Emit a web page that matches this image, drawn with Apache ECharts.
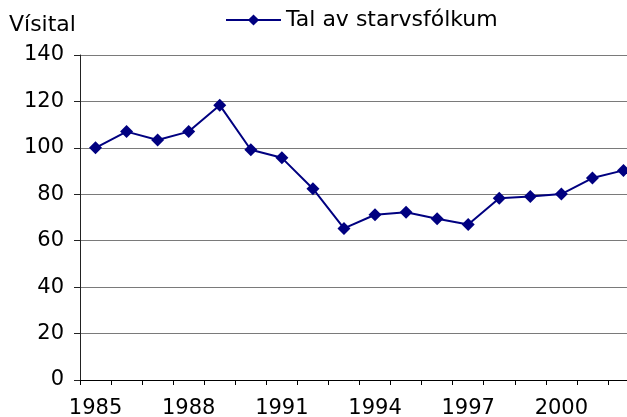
<!DOCTYPE html>
<html>
<head>
<meta charset="utf-8">
<script src="https://cdn.jsdelivr.net/npm/echarts@6/dist/echarts.min.js"></script>
<style>
  html, body { margin: 0; padding: 0; background: #fff; }
  #chart { width: 627px; height: 417px; }
</style>
</head>
<body>
<div id="chart"></div>
<script>
const years = ['1985', '1986', '1987', '1988', '1989', '1990', '1991', '1992', '1993',
  '1994', '1995', '1996', '1997', '1998', '1999', '2000', '2001', '2002'];
const staffIndex = [100, 107, 103.4, 107, 118.4, 99.2, 95.7, 82.4, 65.3,
  71.2, 72.3, 69.5, 67, 78.3, 79, 80.1, 87, 90.3];
const yTicks = [0, 140, 20];
const seriesName = 'Tal av starvsfólkum';
const yAxisTitle = 'Vísital';

const font = 'DejaVu Sans, Verdana, sans-serif';
const chart = echarts.init(document.getElementById('chart'));

// plot runs past the right edge of the picture, like the cropped original
chart.setOption({
  animation: false,
  textStyle: { fontFamily: font },
  title: {
    text: yAxisTitle,
    left: 9,
    top: 14,
    padding: 0,
    textStyle: { fontFamily: font, fontSize: 22, fontWeight: 'normal', color: '#000' }
  },
  legend: {
    left: 225,
    top: 9,
    padding: 0,
    itemWidth: 55,
    itemHeight: 14,
    textStyle: { fontFamily: font, fontSize: 22, color: '#000' },
    data: [seriesName]
  },
  grid: {
    left: 80, width: 559, top: 55, height: 325,
    containLabel: false, outerBoundsMode: 'none'
  },
  xAxis: {
    type: 'category',
    data: years,
    boundaryGap: true,
    axisLine: { lineStyle: { color: '#000', width: 1 } },
    axisTick: { show: true, interval: 0, length: 5, lineStyle: { color: '#000' } },
    axisLabel: { interval: 2, margin: 18, fontSize: 21, color: '#000', fontFamily: font }
  },
  yAxis: {
    type: 'value',
    min: yTicks[0],
    max: yTicks[1],
    interval: yTicks[2],
    axisLine: { show: true, lineStyle: { color: '#222', width: 1 } },
    axisTick: { show: true, length: 6, lineStyle: { color: '#222' } },
    axisLabel: { margin: 16, fontSize: 21, color: '#000', fontFamily: font },
    splitLine: { show: true, lineStyle: { color: '#7a7a7a', width: 1 } }
  },
  series: [{
    name: seriesName,
    type: 'line',
    data: staffIndex,
    symbol: 'diamond',
    symbolSize: 13,
    itemStyle: { color: '#000080' },
    lineStyle: { color: '#000080', width: 2 }
  }]
});
</script>
</body>
</html>
